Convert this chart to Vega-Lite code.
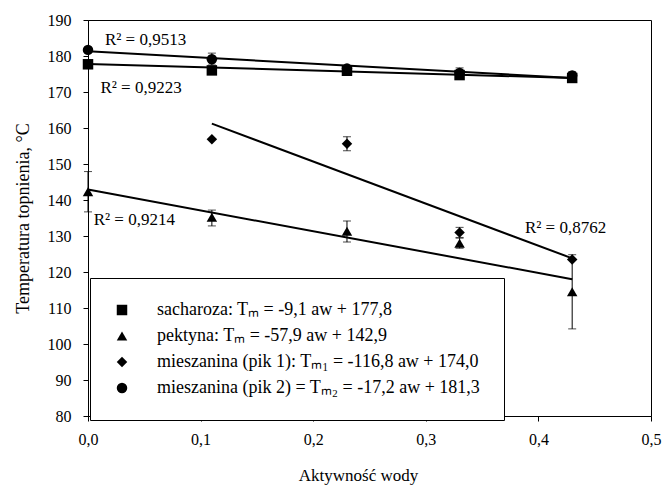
{
  "$schema": "https://vega.github.io/schema/vega-lite/v6.json",
  "width": 563,
  "height": 396,
  "autosize": "none",
  "padding": {"left": 88, "top": 20, "right": 11, "bottom": 71},
  "background": "white",
  "config": {
    "font": "Liberation Serif, Times New Roman, serif",
    "view": {"stroke": "black", "strokeWidth": 1},
    "axis": {
      "grid": false,
      "domainColor": "black",
      "tickColor": "black",
      "labelColor": "black",
      "titleColor": "black",
      "labelFont": "Liberation Serif, Times New Roman, serif",
      "titleFont": "Liberation Serif, Times New Roman, serif",
      "labelFontSize": 16,
      "titleFontSize": 17,
      "titleFontWeight": "normal",
      "tickSize": 5
    },
    "legend": {
      "labelFont": "Liberation Serif, Times New Roman, serif"
    },
    "text": {"font": "Liberation Serif, Times New Roman, serif"}
  },
  "datasets": {
    "points": [
      {"seria": "sacharoza: Tₘ = -9,1 aw + 177,8", "x": 0.0, "y": 177.7},
      {"seria": "sacharoza: Tₘ = -9,1 aw + 177,8", "x": 0.11, "y": 176.0},
      {"seria": "sacharoza: Tₘ = -9,1 aw + 177,8", "x": 0.23, "y": 175.9},
      {"seria": "sacharoza: Tₘ = -9,1 aw + 177,8", "x": 0.33, "y": 174.7},
      {"seria": "sacharoza: Tₘ = -9,1 aw + 177,8", "x": 0.43, "y": 173.9},
      {"seria": "pektyna: Tₘ = -57,9 aw + 142,9", "x": 0.0, "y": 142.3},
      {"seria": "pektyna: Tₘ = -57,9 aw + 142,9", "x": 0.11, "y": 135.2},
      {"seria": "pektyna: Tₘ = -57,9 aw + 142,9", "x": 0.23, "y": 131.3},
      {"seria": "pektyna: Tₘ = -57,9 aw + 142,9", "x": 0.33, "y": 128.0},
      {"seria": "pektyna: Tₘ = -57,9 aw + 142,9", "x": 0.43, "y": 114.5},
      {"seria": "mieszanina (pik 1): Tₘ₁ = -116,8 aw + 174,0", "x": 0.11, "y": 156.9},
      {"seria": "mieszanina (pik 1): Tₘ₁ = -116,8 aw + 174,0", "x": 0.23, "y": 155.6},
      {"seria": "mieszanina (pik 1): Tₘ₁ = -116,8 aw + 174,0", "x": 0.33, "y": 131.0},
      {"seria": "mieszanina (pik 1): Tₘ₁ = -116,8 aw + 174,0", "x": 0.43, "y": 123.5},
      {"seria": "mieszanina (pik 2) = Tₘ₂ = -17,2 aw + 181,3", "x": 0.0, "y": 181.7},
      {"seria": "mieszanina (pik 2) = Tₘ₂ = -17,2 aw + 181,3", "x": 0.11, "y": 179.1},
      {"seria": "mieszanina (pik 2) = Tₘ₂ = -17,2 aw + 181,3", "x": 0.23, "y": 176.5},
      {"seria": "mieszanina (pik 2) = Tₘ₂ = -17,2 aw + 181,3", "x": 0.33, "y": 175.3},
      {"seria": "mieszanina (pik 2) = Tₘ₂ = -17,2 aw + 181,3", "x": 0.43, "y": 174.6}
    ],
    "errors": [
      {"x": 0.0, "lo": 136.7, "hi": 147.9},
      {"x": 0.11, "lo": 132.8, "hi": 137.2},
      {"x": 0.23, "lo": 128.3, "hi": 134.2},
      {"x": 0.33, "lo": 126.6, "hi": 129.4},
      {"x": 0.43, "lo": 104.2, "hi": 124.8},
      {"x": 0.23, "lo": 153.7, "hi": 157.6},
      {"x": 0.33, "lo": 129.6, "hi": 132.4},
      {"x": 0.11, "lo": 177.5, "hi": 180.8},
      {"x": 0.33, "lo": 174.0, "hi": 176.7},
      {"x": 0.43, "lo": 173.6, "hi": 175.6}
    ],
    "trend": [
      {"x": 0.0, "y": 177.8, "x2": 0.43, "y2": 173.9},
      {"x": 0.0, "y": 142.9, "x2": 0.43, "y2": 118.0},
      {"x": 0.11, "y": 161.2, "x2": 0.43, "y2": 123.8},
      {"x": 0.0, "y": 181.3, "x2": 0.43, "y2": 173.9}
    ],
    "labels": [
      {"x": 0.015, "y": 184.4, "t": "R² = 0,9513"},
      {"x": 0.011, "y": 171.1, "t": "R² = 0,9223"},
      {"x": 0.005, "y": 134.4, "t": "R² = 0,9214"},
      {"x": 0.388, "y": 132.2, "t": "R² = 0,8762"}
    ]
  },
  "layer": [
    {
      "data": {"name": "trend"},
      "mark": {"type": "rule", "color": "black", "strokeWidth": 2},
      "encoding": {
        "x": {
          "field": "x", "type": "quantitative",
          "scale": {"domain": [0, 0.5], "nice": false, "zero": false},
          "title": "Aktywność wody",
          "axis": {
            "values": [0, 0.1, 0.2, 0.3, 0.4, 0.5],
            "labelExpr": "replace(format(datum.value, '.1f'), '.', ',')",
            "labelPadding": 10,
            "titlePadding": 20,
            "titleX": 270,
            "titleColor": "#000000",
            "labelOverlap": false,
            "labelFlush": false
          }
        },
        "y": {
          "field": "y", "type": "quantitative",
          "scale": {"domain": [80, 190], "nice": false, "zero": false},
          "title": "Temperatura topnienia, °C",
          "axis": {
            "tickCount": 12,
            "values": [80, 90, 100, 110, 120, 130, 140, 150, 160, 170, 180, 190],
            "labelExpr": "format(datum.value, 'd')",
            "labelPadding": 12,
            "titlePadding": 15,
            "titleFontSize": 18,
            "titleColor": "#000000",
            "labelOverlap": false,
            "labelSeparation": 0,
            "labelFlush": false
          }
        },
        "x2": {"field": "x2"},
        "y2": {"field": "y2"}
      }
    },
    {
      "data": {"name": "errors"},
      "mark": {"type": "rule", "color": "black", "strokeWidth": 1},
      "encoding": {
        "x": {"field": "x", "type": "quantitative", "title": "Aktywność wody"},
        "y": {"field": "lo", "type": "quantitative", "title": "Temperatura topnienia, °C"},
        "y2": {"field": "hi"}
      }
    },
    {
      "data": {"name": "errors"},
      "mark": {"type": "tick", "color": "black", "orient": "horizontal", "size": 8, "thickness": 1},
      "encoding": {
        "x": {"field": "x", "type": "quantitative", "title": "Aktywność wody"},
        "y": {"field": "lo", "type": "quantitative", "title": "Temperatura topnienia, °C"}
      }
    },
    {
      "data": {"name": "errors"},
      "mark": {"type": "tick", "color": "black", "orient": "horizontal", "size": 8, "thickness": 1},
      "encoding": {
        "x": {"field": "x", "type": "quantitative", "title": "Aktywność wody"},
        "y": {"field": "hi", "type": "quantitative", "title": "Temperatura topnienia, °C"}
      }
    },
    {
      "data": {"name": "points"},
      "mark": {"type": "point", "filled": true, "color": "black", "opacity": 1},
      "encoding": {
        "x": {"field": "x", "type": "quantitative", "title": "Aktywność wody"},
        "y": {"field": "y", "type": "quantitative", "title": "Temperatura topnienia, °C"},
        "shape": {
          "field": "seria", "type": "nominal",
          "scale": {
            "domain": ["sacharoza: Tₘ = -9,1 aw + 177,8", "pektyna: Tₘ = -57,9 aw + 142,9", "mieszanina (pik 1): Tₘ₁ = -116,8 aw + 174,0", "mieszanina (pik 2) = Tₘ₂ = -17,2 aw + 181,3"],
            "range": ["square", "triangle-up", "diamond", "circle"]
          },
          "legend": {
            "orient": "none",
            "legendX": 2,
            "legendY": 258,
            "title": null,
            "strokeColor": "black",
            "fillColor": "white",
            "padding": 23,
            "labelFontSize": 18,
            "labelFont": "Liberation Serif, Times New Roman, serif",
            "labelColor": "black",
            "labelLimit": 0,
            "labelOffset": 26,
            "rowPadding": 8,
            "symbolFillColor": "black",
            "symbolStrokeColor": "black",
            "symbolOpacity": 1
          }
        },
        "size": {
          "field": "seria", "type": "nominal",
          "scale": {
            "domain": ["sacharoza: Tₘ = -9,1 aw + 177,8", "pektyna: Tₘ = -57,9 aw + 142,9", "mieszanina (pik 1): Tₘ₁ = -116,8 aw + 174,0", "mieszanina (pik 2) = Tₘ₂ = -17,2 aw + 181,3"],
            "range": [110, 110, 130, 150]
          }
        }
      }
    },
    {
      "data": {"name": "labels"},
      "mark": {"type": "text", "align": "left", "baseline": "middle", "fontSize": 17, "font": "Liberation Serif, Times New Roman, serif", "color": "black"},
      "encoding": {
        "x": {"field": "x", "type": "quantitative", "title": "Aktywność wody"},
        "y": {"field": "y", "type": "quantitative", "title": "Temperatura topnienia, °C"},
        "text": {"field": "t"}
      }
    }
  ]
}
